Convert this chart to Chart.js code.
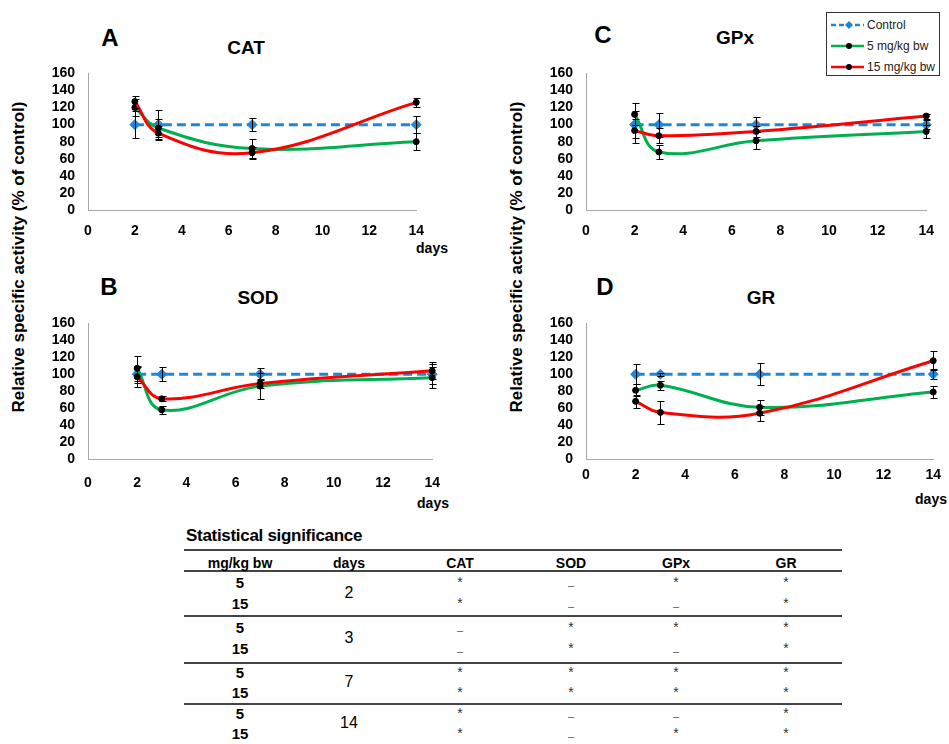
<!DOCTYPE html>
<html><head><meta charset="utf-8">
<script src="https://cdn.jsdelivr.net/npm/chart.js@4.4.1/dist/chart.umd.min.js"></script>
<style>
html,body{margin:0;padding:0;background:#fff;}
body{width:949px;height:744px;position:relative;overflow:hidden;font-family:"Liberation Sans",Arial,sans-serif;color:#000;}
.abs{position:absolute;white-space:nowrap;}
.c{transform:translate(-50%,-50%);}
canvas{position:absolute;}
.rule{position:absolute;left:184px;width:658px;height:2px;background:#444;}
</style></head><body>
<script>
// ---------- data ----------
const days = [2, 3, 7, 14];
const seriesNames = ['Control', '5 mg/kg bw', '15 mg/kg bw'];
const xTicks = [0, 2, 4, 6, 8, 10, 12, 14];
const yTicks = [0, 20, 40, 60, 80, 100, 120, 140, 160];

const catControl = [100, 100, 100, 100];
const cat5 = [120, 96, 72, 80];
const cat15 = [127, 90, 67, 126];
const catControlErr = [16, 17, 8, 10];
const cat5Err = [10, 11, 11, 10];
const cat15Err = [7, 8, 7, 5];

const sodControl = [100, 100, 100, 100];
const sod5 = [107, 58, 86, 96];
const sod15 = [97, 71, 89, 104];
const sodControlErr = [10, 8, 7, 12];
const sod5Err = [15, 5, 15, 12];
const sod15Err = [12, 3, 5, 10];

const gpxControl = [100, 100, 100, 100];
const gpx5 = [112, 68, 81, 92];
const gpx15 = [93, 87, 92, 110];
const gpxControlErr = [16, 14, 9, 5];
const gpx5Err = [13, 8, 10, 8];
const gpx15Err = [14, 9, 6, 3];

const grControl = [100, 100, 100, 100];
const gr5 = [81, 87, 61, 79];
const gr15 = [68, 55, 54, 116];
const grControlErr = [12, 2, 13, 6];
const gr5Err = [7, 5, 9, 7];
const gr15Err = [8, 14, 9, 11];

const tableTitle = 'Statistical significance';
const tableHeaders = ['mg/kg bw', 'days', 'CAT', 'SOD', 'GPx', 'GR'];
const tableDays = [2, 3, 7, 14];
const tableDoses = [5, 15];
const significance = [
  ['*', '–', '*', '*'],
  ['*', '–', '–', '*'],
  ['–', '*', '*', '*'],
  ['–', '*', '–', '*'],
  ['*', '*', '*', '*'],
  ['*', '*', '*', '*'],
  ['*', '–', '–', '*'],
  ['*', '–', '*', '*']
];
</script>

<div class="abs c" style="left:19px;top:257px;font-weight:bold;font-size:17px;transform:translate(-50%,-50%) rotate(-90deg);">Relative specific activity (% of control)</div>
<div class="abs c" style="left:517px;top:257px;font-weight:bold;font-size:17px;transform:translate(-50%,-50%) rotate(-90deg);">Relative specific activity (% of control)</div>

<div class="abs c" style="left:110px;top:38px;font-weight:bold;font-size:24px;">A</div>
<div class="abs c" style="left:603px;top:35px;font-weight:bold;font-size:24px;">C</div>
<div class="abs c" style="left:109px;top:287px;font-weight:bold;font-size:24px;">B</div>
<div class="abs c" style="left:605px;top:287px;font-weight:bold;font-size:24px;">D</div>

<div class="abs c" style="left:246px;top:48px;font-weight:bold;font-size:19px;">CAT</div>
<div class="abs c" style="left:735px;top:38px;font-weight:bold;font-size:19px;">GPx</div>
<div class="abs c" style="left:258px;top:298px;font-weight:bold;font-size:19px;">SOD</div>
<div class="abs c" style="left:761px;top:298px;font-weight:bold;font-size:19px;">GR</div>

<div class="abs c" style="left:432px;top:248px;font-weight:bold;font-size:14px;">days</div>
<div class="abs c" style="left:433px;top:503px;font-weight:bold;font-size:14px;">days</div>
<div class="abs c" style="left:931px;top:499px;font-weight:bold;font-size:14px;">days</div>

<canvas id="cA" width="399" height="192" style="left:38px;top:52px;"></canvas>
<canvas id="cB" width="418" height="191" style="left:38px;top:302px;"></canvas>
<canvas id="cC" width="411" height="192" style="left:536px;top:52px;"></canvas>
<canvas id="cD" width="413" height="191" style="left:536px;top:302px;"></canvas>

<div id="legend" class="abs" style="left:826px;top:12px;width:112px;height:62px;border:1px solid #333;background:#fff;"></div>

<div id="table"></div>

<script>
const FONT = '"Liberation Sans", Arial, sans-serif';
const BLUE = '#1f86d6', GREEN = '#00b050', RED = '#ff0000';

const errorBars = {
  id: 'errorBars',
  afterDatasetsDraw(chart) {
    const {ctx} = chart;
    const xs = chart.scales.x, ys = chart.scales.y;
    ctx.save();
    ctx.strokeStyle = '#000';
    ctx.lineWidth = 1;
    chart.data.datasets.forEach(ds => {
      if (!ds.errors) return;
      ds.data.forEach((p, i) => {
        const e = ds.errors[i];
        const px = Math.round(xs.getPixelForValue(p.x)) + 0.5;
        const y1 = Math.round(ys.getPixelForValue(p.y + e)) + 0.5;
        const y2 = Math.round(ys.getPixelForValue(p.y - e)) + 0.5;
        ctx.beginPath();
        ctx.moveTo(px, y1); ctx.lineTo(px, y2);
        ctx.moveTo(px - 3, y1); ctx.lineTo(px + 4, y1);
        ctx.moveTo(px - 3, y2); ctx.lineTo(px + 4, y2);
        ctx.stroke();
      });
    });
    ctx.restore();
  }
};

function pts(arr) { return days.map((d, i) => ({x: d, y: arr[i]})); }

function makeChart(id, ctrl, ctrlErr, d5, d5Err, d15, d15Err, xpad) {
  const datasets = [
    {label: seriesNames[2], data: pts(d15), errors: d15Err, borderColor: RED, backgroundColor: RED,
     borderWidth: 3, tension: 0.4, pointRadius: 3, pointBackgroundColor: '#000', pointBorderColor: '#000',
     pointBorderWidth: 1, order: 1, clip: false},
    {label: seriesNames[1], data: pts(d5), errors: d5Err, borderColor: GREEN, backgroundColor: GREEN,
     borderWidth: 3, tension: 0.4, pointRadius: 3, pointBackgroundColor: '#000', pointBorderColor: '#000',
     pointBorderWidth: 1, order: 2, clip: false},
    {label: seriesNames[0], data: pts(ctrl), errors: ctrlErr, borderColor: BLUE, backgroundColor: BLUE,
     borderWidth: 3, borderDash: [9, 5], tension: 0, pointStyle: 'rectRot', pointRadius: 5,
     pointBackgroundColor: BLUE, pointBorderColor: BLUE, pointBorderWidth: 1, order: 3, clip: false}
  ];
  const tickFont = {family: FONT, size: 14, weight: 'bold'};
  return new Chart(document.getElementById(id), {
    type: 'line',
    data: {datasets},
    options: {
      responsive: false, animation: false, devicePixelRatio: 1,
      layout: {padding: {top: 12, right: 14, left: 0, bottom: 0}},
      plugins: {legend: {display: false}, tooltip: {enabled: false}, title: {display: false}},
      scales: {
        x: {type: 'linear', min: 0, max: 14,
            afterBuildTicks: s => { s.ticks = xTicks.map(v => ({value: v})); },
            ticks: {padding: xpad, color: '#000', font: tickFont, maxRotation: 0, autoSkip: false},
            grid: {display: false, drawTicks: false},
            border: {display: true, color: '#a8a8a8', width: 1},
            afterFit: s => { s.height = 34; }},
        y: {type: 'linear', min: 0, max: 160,
            afterBuildTicks: s => { s.ticks = yTicks.map(v => ({value: v})); },
            ticks: {padding: 13, color: '#000', font: tickFont, autoSkip: false},
            grid: {display: false, drawTicks: false},
            border: {display: true, color: '#a8a8a8', width: 1},
            afterFit: s => { s.width = 50; }}
      }
    },
    plugins: [errorBars]
  });
}

makeChart('cA', catControl, catControlErr, cat5, cat5Err, cat15, cat15Err, 13);
makeChart('cB', sodControl, sodControlErr, sod5, sod5Err, sod15, sod15Err, 16);
makeChart('cC', gpxControl, gpxControlErr, gpx5, gpx5Err, gpx15, gpx15Err, 13);
makeChart('cD', grControl, grControlErr, gr5, gr5Err, gr15, gr15Err, 8);

// legend
(function () {
  const lg = document.getElementById('legend');
  const colors = [BLUE, GREEN, RED];
  const rowTops = [6, 27, 48];
  seriesNames.forEach((name, i) => {
    const y = rowTops[i];
    let marker;
    if (i === 0) {
      marker = `<line x1="2" y1="6" x2="35" y2="6" stroke="${BLUE}" stroke-width="2.5" stroke-dasharray="5,3"/>` +
               `<polygon points="20,2 24,6 20,10 16,6" fill="${BLUE}"/>`;
    } else {
      marker = `<line x1="2" y1="6" x2="35" y2="6" stroke="${colors[i]}" stroke-width="2.5"/>` +
               `<circle cx="20" cy="6" r="3" fill="#000"/>`;
    }
    const row = document.createElement('div');
    row.className = 'abs';
    row.style.left = '0px'; row.style.top = y + 'px';
    row.innerHTML = `<svg width="38" height="12" style="position:absolute;left:2px;top:0px;">${marker}</svg>` +
      `<span style="position:absolute;left:40px;top:-1px;font-size:12px;color:#222;">${name}</span>`;
    lg.appendChild(row);
  });
})();

// table
(function () {
  const t = document.getElementById('table');
  const colX = [240, 349, 460, 571, 676, 786];
  const headerY = 563;
  const rowY = [582, 603, 627, 648, 672, 692, 713, 733];
  const groupY = [593, 638, 682, 723];
  const rules = [550, 571, 616, 663, 704];
  function add(html, x, y, style) {
    const d = document.createElement('div');
    d.className = 'abs c';
    d.style.left = x + 'px'; d.style.top = y + 'px';
    d.style.cssText += style;
    d.textContent = html;
    t.appendChild(d);
  }
  const title = document.createElement('div');
  title.className = 'abs';
  title.style.cssText = 'left:186px;top:526px;font-weight:bold;font-size:17px;letter-spacing:-0.3px;';
  title.textContent = tableTitle;
  t.appendChild(title);
  rules.forEach(y => {
    const r = document.createElement('div');
    r.className = 'rule';
    r.style.top = (y - 1) + 'px';
    t.appendChild(r);
  });
  tableHeaders.forEach((h, i) => add(h, colX[i], headerY, 'font-weight:bold;font-size:14px;'));
  tableDays.forEach((d, g) => {
    add(String(d), colX[1], groupY[g], 'font-size:16px;');
    tableDoses.forEach((dose, k) => {
      const r = g * 2 + k;
      add(String(dose), colX[0], rowY[r], 'font-weight:bold;font-size:15px;');
      significance[r].forEach((m, c) => {
        if (m === '*') add('*', colX[2 + c], rowY[r], 'font-size:14px;color:#333;');
        else add('–', colX[2 + c], rowY[r] + 3, 'font-size:11px;color:#555;');
      });
    });
  });
})();
</script>
</body></html>
